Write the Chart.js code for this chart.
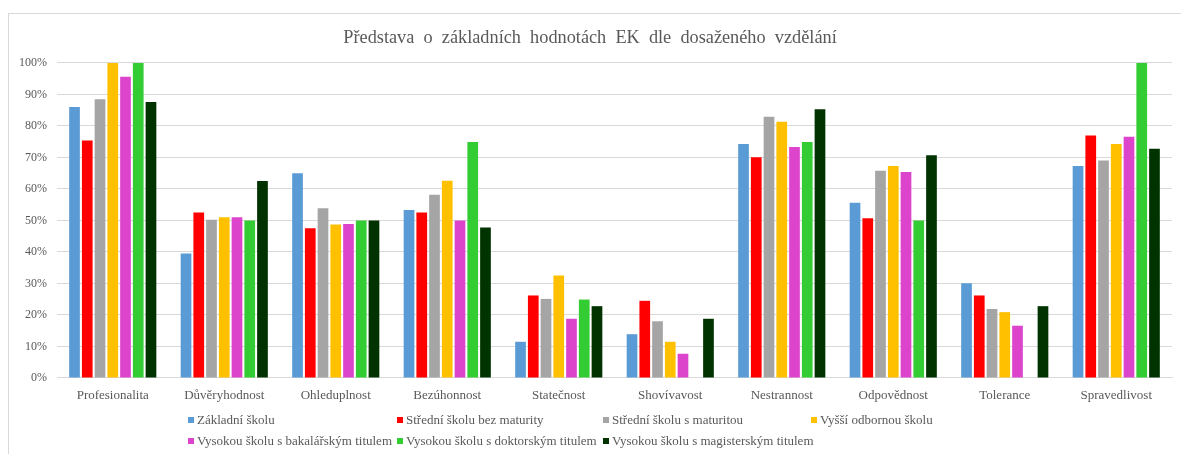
<!DOCTYPE html>
<html>
<head>
<meta charset="utf-8">
<script src="https://cdn.jsdelivr.net/npm/chart.js@4"></script>
<style>
  body { margin: 0; background: #fff; }
  #wrap { position: relative; width: 1181px; height: 454px; }
  #frame { position: absolute; left: 8px; top: 13px; width: 1200px; height: 500px;
           border-left: 1px solid #d9d9d9; border-top: 1px solid #d9d9d9; }
  #legenda { position: absolute; left: 188px; top: 411px; display: grid;
             grid-template-columns: 209px 206px 208px 200px; row-gap: 4px;
             font: 13px "Liberation Serif", "Times New Roman", serif; color: #595959; }
  #legenda span.item { white-space: nowrap; line-height: 17px; }
  #legenda i { display: inline-block; width: 6px; height: 6px; margin-right: 3px; vertical-align: 1px; }
</style>
</head>
<body>
<div id="wrap">
  <div id="frame"></div>
  <canvas id="graf" width="1181" height="454"></canvas>
  <div id="legenda"></div>
</div>
<script>
const kategorie = ['Profesionalita', 'Důvěryhodnost', 'Ohleduplnost', 'Bezúhonnost', 'Statečnost',
  'Shovívavost', 'Nestrannost', 'Odpovědnost', 'Tolerance', 'Spravedlivost'];

const zakladni     = [86.0, 39.5, 65.0, 53.3, 11.5, 13.9, 74.3, 55.6, 30.1, 67.3];
const stredniBez   = [75.4, 52.5, 47.5, 52.5, 26.2, 24.5, 70.1, 50.7, 26.2, 77.0];
const stredniMat   = [88.5, 50.2, 53.9, 58.2, 25.1, 18.0, 82.9, 65.8, 21.9, 69.0];
const vyssiOdb     = [100, 51.0, 48.7, 62.6, 32.5, 11.5, 81.3, 67.3, 20.9, 74.3];
const bakalarsky   = [95.6, 51.0, 48.9, 50.0, 18.8, 7.7, 73.3, 65.4, 16.6, 76.6];
const doktorsky    = [100, 50.0, 50.0, 74.9, 24.9, 0, 74.9, 50.0, 0, 100];
const magistersky  = [87.6, 62.5, 50.0, 47.8, 22.8, 18.8, 85.3, 70.7, 22.8, 72.8];

const nazvyRad = ['Základní školu', 'Střední školu bez maturity', 'Střední školu s maturitou',
  'Vyšší odbornou školu', 'Vysokou školu s bakalářským titulem', 'Vysokou školu s doktorským titulem',
  'Vysokou školu s magisterským titulem'];
const barvy = ['#5b9bd5', '#ff0000', '#a5a5a5', '#ffc000', '#dd44cc', '#33cc33', '#003300'];
const rady = [zakladni, stredniBez, stredniMat, vyssiOdb, bakalarsky, doktorsky, magistersky];

const pismo = '"Liberation Serif", "Times New Roman", serif';

new Chart(document.getElementById('graf'), {
  type: 'bar',
  data: {
    labels: kategorie,
    datasets: rady.map((d, i) => ({
      label: nazvyRad[i],
      data: d,
      backgroundColor: barvy[i],
      categoryPercentage: 0.80,
      barPercentage: 0.84
    }))
  },
  options: {
    responsive: false,
    animation: false,
    layout: { padding: { left: 8, right: 9, top: 0, bottom: 46 } },
    plugins: {
      legend: { display: false },
      tooltip: { enabled: false },
      title: {
        display: true,
        text: 'Představa  o  základních  hodnotách  EK  dle  dosaženého  vzdělání',
        color: '#595959',
        font: { family: pismo, size: 18.3, weight: 'normal' },
        padding: { top: 27, bottom: 14 }
      }
    },
    scales: {
      x: {
        grid: { display: false },
        border: { color: '#d9d9d9' },
        ticks: { color: '#595959', font: { family: pismo, size: 13 }, padding: 2, maxRotation: 0 },
        afterFit: s => { s.height = 30; }
      },
      y: {
        min: 0,
        max: 100,
        grid: { color: '#d9d9d9', drawTicks: false },
        border: { display: false },
        ticks: {
          stepSize: 10,
          color: '#595959',
          font: { family: pismo, size: 12 },
          padding: 10,
          callback: v => v + '%'
        },
        afterFit: s => { s.width = 49; }
      }
    }
  }
});

const leg = document.getElementById('legenda');
nazvyRad.forEach((n, i) => {
  const el = document.createElement('span');
  el.className = 'item';
  el.innerHTML = '<i style="background:' + barvy[i] + '"></i>' + n;
  leg.appendChild(el);
});
</script>
</body>
</html>
